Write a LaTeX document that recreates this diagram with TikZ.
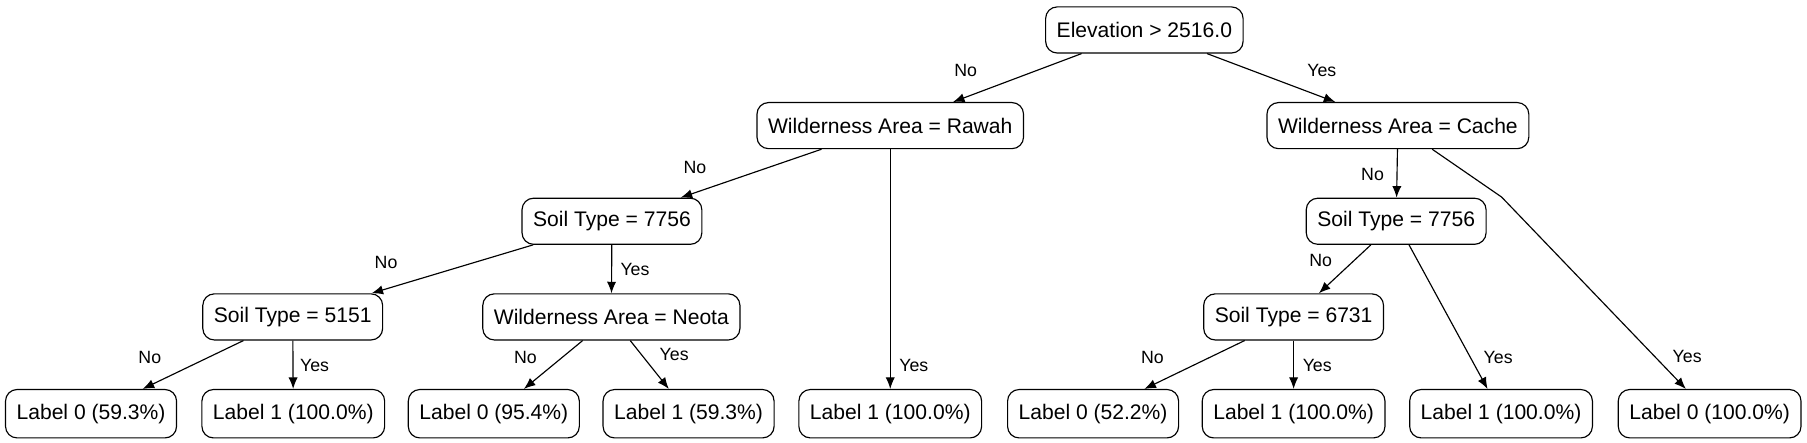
\documentclass[tikz,border=0pt]{standalone}
\usepackage{fontspec}
\setmainfont{Liberation Sans}
\usetikzlibrary{arrows.meta}
\tikzset{
	splitbox/.style={draw, rounded corners=5pt, line width=0.5pt, minimum height=20pt, inner xsep=4.8pt, font=\fontsize{9.15}{11}\selectfont},
	leafbox/.style={splitbox, minimum height=21pt},
	arrowline/.style={line width=0.5pt, -{Latex[length=5pt,width=4pt]}},
	answerlbl/.style={font=\fontsize{7.7}{9}\selectfont, inner sep=0pt}
}

\begin{document}
\begin{tikzpicture}[x=0.5pt, y=-0.5pt]
		%%%%% START %%%%%
		\useasboundingbox (0, 0) rectangle (1568, 384.4);
		
		% splits
		\node[splitbox] (root) at (993, 26) {Elevation > 2516.0};
		\node[splitbox] (rawah) at (772.5, 109) {Wilderness Area = Rawah};
		\node[splitbox] (cache) at (1213, 109) {Wilderness Area = Cache};
		\node[splitbox] (soilA) at (531, 192) {Soil Type = 7756};
		\node[splitbox] (soilB) at (1211.5, 192) {Soil Type = 7756};
		\node[splitbox] (soilC) at (254, 275) {Soil Type = 5151};
		\node[splitbox] (neota) at (530.5, 275) {Wilderness Area = Neota};
		\node[splitbox] (soilD) at (1122.5, 275) {Soil Type = 6731};
		
		% leaves
		\node[leafbox] (leafA) at (79, 359) {Label 0 (59.3\%)};
		\node[leafbox] (leafB) at (254.5, 359) {Label 1 (100.0\%)};
		\node[leafbox] (leafC) at (428.5, 359) {Label 0 (95.4\%)};
		\node[leafbox] (leafD) at (597.5, 359) {Label 1 (59.3\%)};
		\node[leafbox] (leafE) at (772.5, 359) {Label 1 (100.0\%)};
		\node[leafbox] (leafF) at (948.5, 359) {Label 0 (52.2\%)};
		\node[leafbox] (leafG) at (1122.5, 359) {Label 1 (100.0\%)};
		\node[leafbox] (leafH) at (1302.5, 359) {Label 1 (100.0\%)};
		\node[leafbox] (leafI) at (1483.5, 359) {Label 0 (100.0\%)};
		
		% connectors
		\coordinate (bend) at (1303, 171);
		\draw[arrowline] (root) -- (rawah);
		\draw[arrowline] (root) -- (cache);
		\draw[arrowline] (rawah) -- (soilA);
		\draw[arrowline] (rawah) -- (leafE);
		\draw[arrowline] (cache) -- (soilB);
		\draw[arrowline] (cache) -- (bend) -- (leafI);
		\draw[arrowline] (soilA) -- (soilC);
		\draw[arrowline] (soilA) -- (neota);
		\draw[arrowline] (soilB) -- (soilD);
		\draw[arrowline] (soilB) -- (leafH);
		\draw[arrowline] (soilC) -- (leafA);
		\draw[arrowline] (soilC) -- (leafB);
		\draw[arrowline] (neota) -- (leafC);
		\draw[arrowline] (neota) -- (leafD);
		\draw[arrowline] (soilD) -- (leafF);
		\draw[arrowline] (soilD) -- (leafG);
		
		% answers
		\node[answerlbl] (noA) at (838, 61) {No};
		\node[answerlbl] (yesA) at (1147, 61) {Yes};
		\node[answerlbl] (noB) at (603, 145) {No};
		\node[answerlbl] (yesB) at (793, 317) {Yes};
		\node[answerlbl] (noC) at (1191, 151) {No};
		\node[answerlbl] (yesC) at (1464, 309) {Yes};
		\node[answerlbl] (noD) at (1146, 226) {No};
		\node[answerlbl] (yesD) at (1300, 310) {Yes};
		\node[answerlbl] (noE) at (335, 228) {No};
		\node[answerlbl] (yesE) at (551, 234) {Yes};
		\node[answerlbl] (noF) at (130, 310) {No};
		\node[answerlbl] (yesF) at (273, 317) {Yes};
		\node[answerlbl] (noG) at (456, 310) {No};
		\node[answerlbl] (yesG) at (585, 308) {Yes};
		\node[answerlbl] (noH) at (1000, 310) {No};
		\node[answerlbl] (yesH) at (1143, 317) {Yes};
		%%%%% END %%%%%
	\end{tikzpicture}
\end{document}
